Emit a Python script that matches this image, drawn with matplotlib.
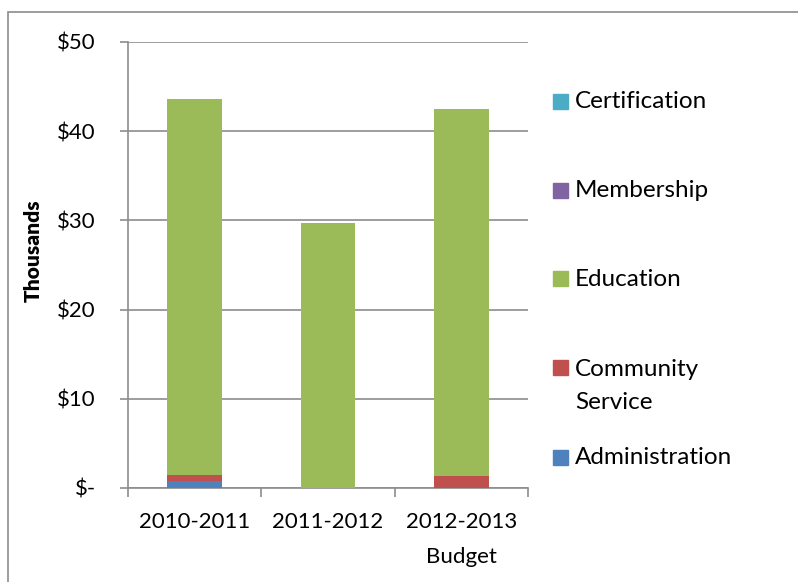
import matplotlib
matplotlib.use("Agg")
import matplotlib.pyplot as plt
from matplotlib.patches import Rectangle
import numpy as np

plt.rcParams['font.family'] = ['Lato', 'DejaVu Sans']

categories = ["2010-2011", "2011-2012", "2012-2013\nBudget"]
series_names = ["Administration", "Community Service", "Education", "Membership", "Certification"]
administration = [0.8, 0.0, 0.0]
community_service = [0.7, 0.0, 1.4]
education = [42.1, 29.7, 41.1]
membership = [0.0, 0.0, 0.0]
certification = [0.0, 0.0, 0.0]
series_values = [administration, community_service, education, membership, certification]
colors = ["#4F81BD", "#C0504D", "#9BBB59", "#8064A2", "#4BACC6"]
legend_labels = ["Certification", "Membership", "Education", "Community\nService", "Administration"]
legend_colors = ["#4BACC6", "#8064A2", "#9BBB59", "#C0504D", "#4F81BD"]
yticks = [0, 10, 20, 30, 40, 50]
ytick_labels = ["$-", "$10", "$20", "$30", "$40", "$50"]

fig = plt.figure(figsize=(7.98, 5.82), dpi=100)
fig.patches.append(Rectangle((8/798, -0.1), 1.2, 1 - 12/582 + 0.1, transform=fig.transFigure,
                             fill=False, edgecolor="#8c8c8c", linewidth=1.2))
ax = fig.add_axes([128/798, 1 - 488/582, 400/798, 446/582])

x = np.arange(len(categories))
bottom = np.zeros(len(categories))
for vals, col in zip(series_values, colors):
    ax.bar(x, vals, width=0.41, bottom=bottom, color=col, edgecolor='none', zorder=3)
    bottom += np.array(vals)

ax.set_xlim(-0.5, len(categories) - 0.5)
ax.set_ylim(0, 50)
ax.set_yticks(yticks)
ax.set_yticklabels(ytick_labels, fontsize=16)
ax.yaxis.grid(True, color="#8c8c8c", linewidth=1.2, zorder=0)
ax.set_axisbelow(True)
ax.set_xticks(x)
ax.set_xticklabels(categories, fontsize=16, linespacing=1.95)
ax.tick_params(axis='x', length=0, pad=17)
ax.set_xticks(np.arange(len(categories) + 1) - 0.5, minor=True)
ax.tick_params(axis='x', which='minor', length=6.5, color="#8c8c8c", width=1.2)
ax.tick_params(axis='y', length=6, color="#8c8c8c", width=1.2, pad=17)
for s in ['top', 'right']:
    ax.spines[s].set_visible(False)
for s in ['left', 'bottom']:
    ax.spines[s].set_color("#8c8c8c")
    ax.spines[s].set_linewidth(1.2)
ax.set_ylabel("Thousands", fontsize=15, fontweight='heavy')
ax.yaxis.set_label_coords((43 - 128) / 400, (488 - 251) / 446)

# legend
leg_y = [102, 191, 279, 368, 458]
for lab, col, yy in zip(legend_labels, legend_colors, leg_y):
    fig.patches.append(Rectangle((553/798, 1 - (yy + 7)/582), 15/798, 15/582,
                                 transform=fig.transFigure, color=col))
    if '\n' in lab:
        fig.text(575/798, 1 - (yy - 9)/582, lab, fontsize=17.5, va='top', ha='left', linespacing=1.7)
    else:
        fig.text(575/798, 1 - yy/582, lab, fontsize=17.5, va='center', ha='left')

fig.savefig("out.png", dpi=100)
